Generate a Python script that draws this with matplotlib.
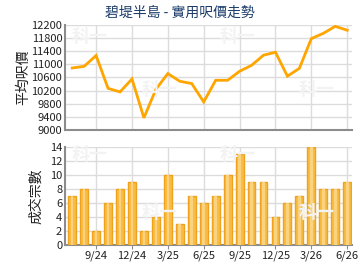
import matplotlib
matplotlib.use("Agg")
import matplotlib.pyplot as plt

plt.rcParams['font.family'] = ['Noto Sans CJK TC', 'DejaVu Sans']

months = ['7/24','8/24','9/24','10/24','11/24','12/24','1/25','2/25','3/25','4/25','5/25','6/25',
          '7/25','8/25','9/25','10/25','11/25','12/25','1/26','2/26','3/26','4/26','5/26','6/26']
price = [10890, 10940, 11270, 10270, 10160, 10555, 9370, 10240, 10720, 10485, 10415, 9855,
         10515, 10515, 10790, 10970, 11280, 11370, 10640, 10880, 11785, 11945, 12160, 12040]
volume = [7, 8, 2, 6, 8, 9, 2, 4, 10, 3, 7, 6, 7, 10, 13, 9, 9, 4, 6, 7, 14, 8, 8, 9]
tick_idx = [2, 5, 8, 11, 14, 17, 20, 23]
title = '碧堤半島 - 實用呎價走勢'
ylabel_top = '平均呎價'
ylabel_bot = '成交宗數'
watermark = '科一'

fig = plt.figure(figsize=(3.6, 2.7), dpi=100)
W, H = 360, 270
def rect(l, t, r, b):
    return [l / W, 1 - b / H, (r - l) / W, (b - t) / H]

x = list(range(len(months)))
grid_c = '#dcdcdc'

ax1 = fig.add_axes(rect(65, 25, 352, 130))
ax2 = fig.add_axes(rect(65, 147, 352, 245))

for ax in (ax1, ax2):
    ax.set_xlim(-0.6, 23.4)
    ax.set_xticks(tick_idx)
    ax.grid(True, color=grid_c, linewidth=1)
    ax.set_axisbelow(True)
    for s in ('top', 'right'):
        ax.spines[s].set_visible(False)
    ax.spines['left'].set_color('#8c8c8c')
    ax.spines['left'].set_linewidth(1.5)
    ax.spines['bottom'].set_color('#8c8c8c')
    ax.spines['bottom'].set_linewidth(1.5)
    ax.tick_params(axis='y', length=0, labelsize=8, pad=2, colors='#222222')
    ax.tick_params(axis='x', length=3, color='#8c8c8c', labelsize=8, pad=1, colors='#222222')

# watermarks (faint, behind the plots)
for (wx, wy) in [(90, 36), (238, 36), (160, 90), (317, 90), (90, 154), (238, 154), (160, 212), (317, 212)]:
    fig.text(wx / W, 1 - wy / H, watermark, fontsize=13, fontweight='bold', color='#f3f3f3',
             ha='center', va='center', zorder=0)

ax1.plot(x, price, color='#ffa500', linewidth=2, zorder=3, solid_joinstyle='miter')
ax1.set_ylim(9000, 12200)
ax1.set_yticks(range(9000, 12201, 400))
ax1.tick_params(axis='x', labelbottom=False, length=0)
ax1.set_ylabel(ylabel_top, fontsize=10, labelpad=1, color='#222222')
ax1.patch.set_alpha(0)

ax2.bar(x, volume, width=0.66, color='#f9bd45', edgecolor='#eea21e', linewidth=1, zorder=3)
ax2.bar(x, volume, width=0.22, color='#fbd37e', linewidth=0, zorder=4)
ax2.set_ylim(0, 14)
ax2.set_yticks(range(0, 15, 2))
ax2.set_xticklabels([months[i] for i in tick_idx])
ax2.set_ylabel(ylabel_bot, fontsize=10, labelpad=5, color='#222222')
ax2.patch.set_alpha(0)

fig.text(180 / W, 1 - 13 / H, title, fontsize=10, color='#1b3c6b', ha='center', va='center')

fig.savefig('out.png', dpi=100)
